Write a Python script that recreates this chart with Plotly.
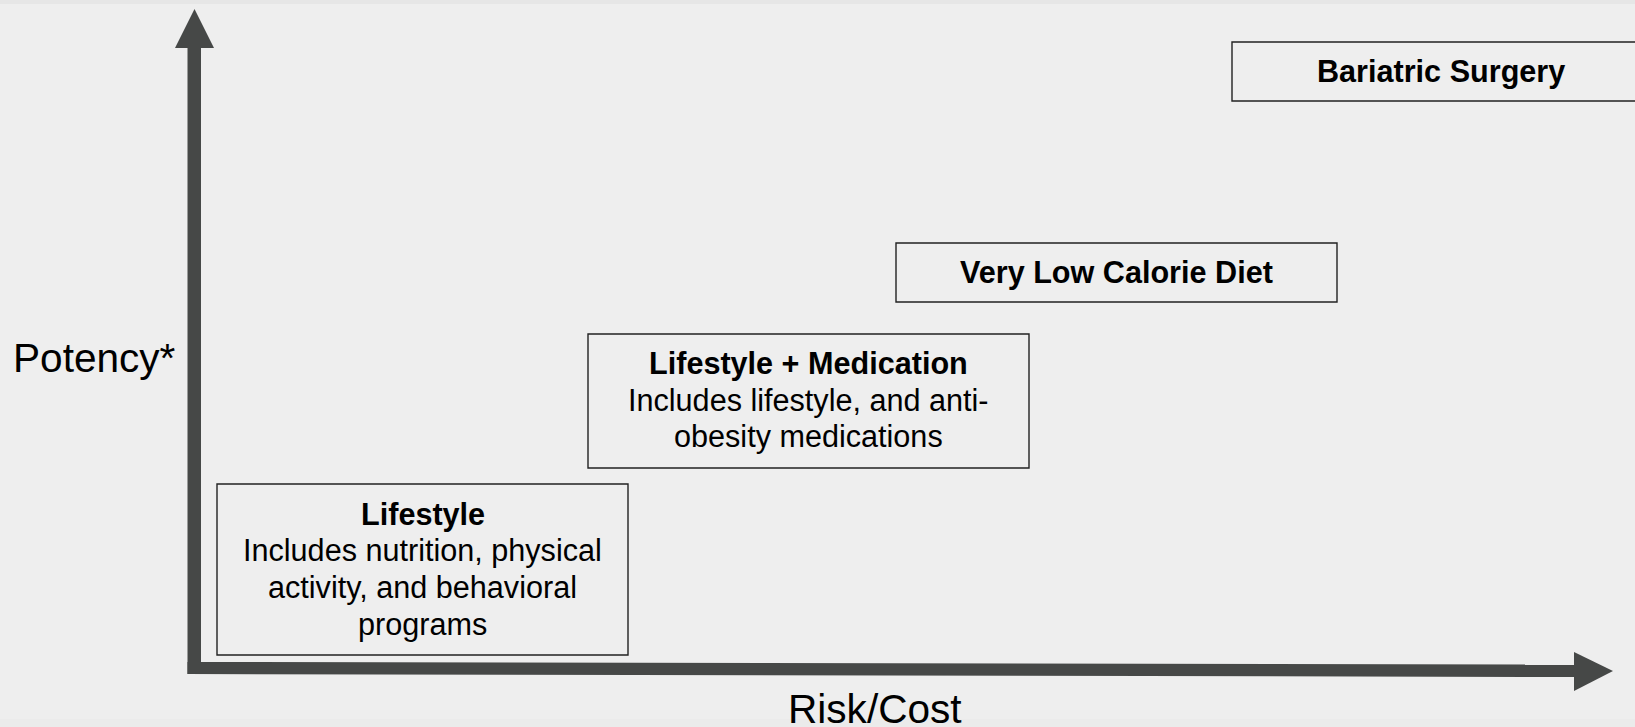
import plotly.graph_objects as go

# ---- content ----
box_titles = ["Lifestyle", "Lifestyle + Medication", "Very Low Calorie Diet", "Bariatric Surgery"]
box_descriptions = [
    ["Includes nutrition, physical", "activity, and behavioral", "programs"],
    ["Includes lifestyle, and anti-", "obesity medications"],
    [],
    [],
]
x_axis_label = "Risk/Cost"
y_axis_label = "Potency*"

# ---- layout geometry (pixel canvas 1635 x 727, y downwards) ----
W, H = 1635, 727
box_x0 = [217, 588, 896, 1232]
box_x1 = [628, 1029, 1337, 1649]
box_y0 = [484, 334, 243, 42]
box_y1 = [655, 468, 302, 101]
first_baseline = [525, 374.3, 283.3, 82.3]
line_step = 36.7
body_size = 30.6
label_size = 40.6
FONT = "Arial, Liberation Sans, sans-serif"
ARROW = "#464847"
BG = "#eeeeee"

fig = go.Figure()
fig.add_trace(go.Scatter(x=[0, W], y=[0, H], mode="markers",
                         marker=dict(opacity=0), hoverinfo="skip", showlegend=False))

shapes = []
# subtle bands at top/bottom
shapes.append(dict(type="rect", xref="x", yref="y", x0=0, x1=W, y0=0, y1=4,
                   fillcolor="#e6e6e6", line=dict(width=0), layer="below"))
shapes.append(dict(type="rect", xref="x", yref="y", x0=0, x1=W, y0=719, y1=H,
                   fillcolor="#ebebeb", line=dict(width=0), layer="below"))

# vertical arrow (shaft + head)
shapes.append(dict(type="path", xref="x", yref="y",
                   path="M 187.5 674 L 187.5 47 L 201 47 L 201 674 Z",
                   fillcolor=ARROW, line=dict(width=0)))
shapes.append(dict(type="path", xref="x", yref="y",
                   path="M 175 48 L 194.5 9 L 214 48 Z",
                   fillcolor=ARROW, line=dict(width=0)))
# horizontal arrow (shaft + head)
shapes.append(dict(type="path", xref="x", yref="y",
                   path="M 187.5 662 L 1575 664.5 L 1575 677 L 187.5 674 Z",
                   fillcolor=ARROW, line=dict(width=0)))
shapes.append(dict(type="path", xref="x", yref="y",
                   path="M 1574 652 L 1613 671 L 1574 691 Z",
                   fillcolor=ARROW, line=dict(width=0)))

# boxes
for i in range(len(box_titles)):
    shapes.append(dict(type="rect", xref="x", yref="y",
                       x0=box_x0[i], x1=box_x1[i], y0=box_y0[i], y1=box_y1[i],
                       fillcolor="rgba(0,0,0,0)", line=dict(color="#222222", width=1.4)))

annotations = []
for i, title in enumerate(box_titles):
    cx = (box_x0[i] + box_x1[i]) / 2
    if box_x1[i] > W:
        cx = 1440.5
    lines = [(title, True)] + [(t, False) for t in box_descriptions[i]]
    for k, (txt, bold) in enumerate(lines):
        baseline = first_baseline[i] + k * line_step
        annotations.append(dict(
            x=cx, y=baseline - 0.358 * body_size, xref="x", yref="y",
            text=f"<b>{txt}</b>" if bold else txt, showarrow=False,
            xanchor="center", yanchor="middle",
            font=dict(family=FONT, size=body_size, color="#000000")))

annotations.append(dict(x=94.5, y=373 - 0.358 * label_size, xref="x", yref="y",
                        text=y_axis_label, showarrow=False, xanchor="center", yanchor="middle",
                        font=dict(family=FONT, size=label_size, color="#000000")))
annotations.append(dict(x=875, y=724 - 0.358 * label_size, xref="x", yref="y",
                        text=x_axis_label, showarrow=False, xanchor="center", yanchor="middle",
                        font=dict(family=FONT, size=label_size, color="#000000")))

fig.update_layout(
    width=W, height=H, margin=dict(l=0, r=0, t=0, b=0),
    paper_bgcolor=BG, plot_bgcolor=BG,
    xaxis=dict(range=[0, W], visible=False, fixedrange=True),
    yaxis=dict(range=[H, 0], visible=False, fixedrange=True),
    shapes=shapes, annotations=annotations, showlegend=False,
)

fig.write_html(
    "out.html",
    config={"displayModeBar": False},
    post_script="document.body.style.margin='0';document.body.style.padding='0';"
                "document.body.style.overflow='hidden';"
                "document.documentElement.style.background='#eeeeee';",
)
